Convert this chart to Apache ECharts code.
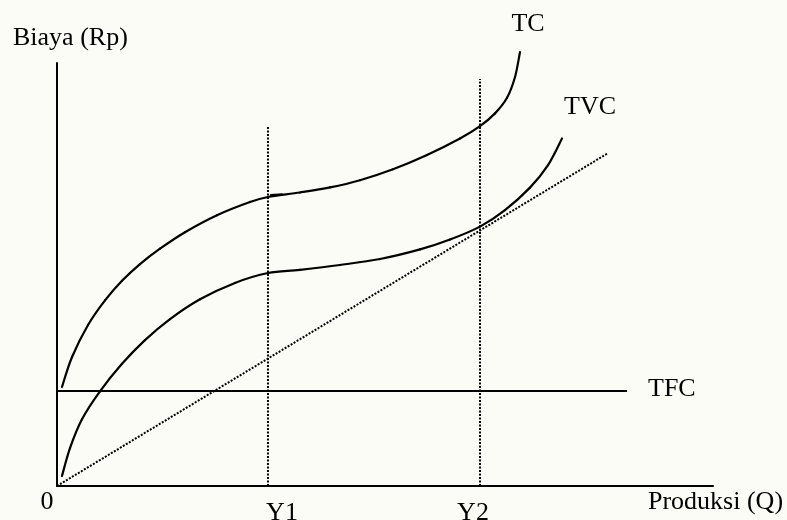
<!DOCTYPE html>
<html>
<head>
<meta charset="utf-8">
<script src="https://cdn.jsdelivr.net/npm/echarts@6/dist/echarts.min.js"></script>
<style>
  html, body { margin: 0; padding: 0; background: #fcfcf6; }
  #chart { width: 787px; height: 520px; }
</style>
</head>
<body>
<div id="chart"></div>
<script>
// Values (x: 0-100 along Produksi, y: 0-100 along Biaya)
const tcPoints = [
  [0.76, 23.40], [2.29, 30.50], [4.73, 38.06], [7.32, 43.88], [9.91, 48.51],
  [12.65, 52.46], [15.70, 56.10], [19.51, 60.00], [24.39, 64.02], [29.42, 67.14],
  [32.16, 68.32], [37.04, 69.39], [41.62, 70.59], [46.19, 72.29], [51.22, 74.87],
  [56.40, 78.25], [61.43, 82.15], [64.48, 85.08], [66.77, 88.09], [68.60, 91.77],
  [69.82, 96.69], [70.58, 102.60]
];
const tcStub = [[32.5, 68.8], [34.4, 69.0]];
const tvcPoints = [
  [0.76, 2.36], [1.98, 8.98], [3.81, 15.79], [6.55, 22.39], [9.91, 28.89],
  [13.41, 34.49], [17.23, 39.46], [21.80, 44.14], [27.13, 48.01], [32.16, 50.35],
  [37.04, 51.11], [43.14, 52.25], [49.24, 53.66], [55.34, 55.93], [59.91, 58.27],
  [64.48, 61.32], [68.29, 65.22], [72.10, 70.54], [74.85, 75.86], [76.98, 82.15]
];
const tfcPoints = [[0, 22.46], [86.9, 22.46]];
const rayPoints = [[0, 0], [84.0, 78.7]];
const y1Line = [[32.16, 0], [32.16, 85.1]];
const y2Line = [[64.48, 0], [64.48, 96.2]];

const serif = '"Liberation Serif", "DejaVu Serif", serif';
const ink = '#000000';

const chart = echarts.init(document.getElementById('chart'));

// hand-drawn curve: Catmull-Rom through the read points, drawn as bezier pieces
const curve = (name, points) => ({
  name,
  type: 'custom',
  data: [points[0]],
  silent: true,
  renderItem: (params, api) => {
    const p = points.map(pt => api.coord(pt));
    const children = [];
    for (let i = 0; i < p.length - 1; i++) {
      const p0 = p[Math.max(i - 1, 0)];
      const p1 = p[i];
      const p2 = p[i + 1];
      const p3 = p[Math.min(i + 2, p.length - 1)];
      children.push({
        type: 'bezierCurve',
        shape: {
          x1: p1[0], y1: p1[1],
          cpx1: p1[0] + (p2[0] - p0[0]) / 6, cpy1: p1[1] + (p2[1] - p0[1]) / 6,
          cpx2: p2[0] - (p3[0] - p1[0]) / 6, cpy2: p2[1] - (p3[1] - p1[1]) / 6,
          x2: p2[0], y2: p2[1]
        },
        style: {stroke: ink, lineWidth: 2.2, fill: null, lineCap: 'round'}
      });
    }
    return {type: 'group', children};
  }
});

const straight = (name, data, dash) => ({
  name,
  type: 'line',
  data,
  symbol: 'none',
  clip: false,
  silent: true,
  lineStyle: {color: ink, width: 2, type: dash || 'solid'}
});

const text = (str, x, y, align) => ({
  type: 'text',
  x, y,
  style: {
    text: str,
    font: '26px ' + serif,
    fill: ink,
    align: align || 'left',
    verticalAlign: 'middle'
  }
});

chart.setOption({
  backgroundColor: '#fcfcf6',
  animation: false,
  grid: {left: 57, top: 63, width: 656, height: 423},
  xAxis: {
    type: 'value', min: 0, max: 100,
    axisLine: {show: true, lineStyle: {color: ink, width: 2}},
    axisTick: {show: false},
    axisLabel: {show: false},
    splitLine: {show: false}
  },
  yAxis: {
    type: 'value', min: 0, max: 100,
    axisLine: {show: true, lineStyle: {color: ink, width: 2}},
    axisTick: {show: false},
    axisLabel: {show: false},
    splitLine: {show: false}
  },
  series: [
    straight('Y1', y1Line, [2, 1.5]),
    straight('Y2', y2Line, [2, 1.5]),
    straight('Ray', rayPoints, [2, 1.5]),
    straight('TFC', tfcPoints),
    curve('TC', tcPoints),
    straight('TC stub', tcStub),
    curve('TVC', tvcPoints)
  ],
  graphic: [
    text('Biaya (Rp)', 13, 38),
    text('TC', 528, 24, 'center'),
    text('TVC', 590, 107, 'center'),
    text('TFC', 648, 389),
    text('Produksi (Q)', 648, 502),
    text('0', 47, 502, 'center'),
    text('Y1', 282, 513, 'center'),
    text('Y2', 473, 513, 'center')
  ]
});
</script>
</body>
</html>
